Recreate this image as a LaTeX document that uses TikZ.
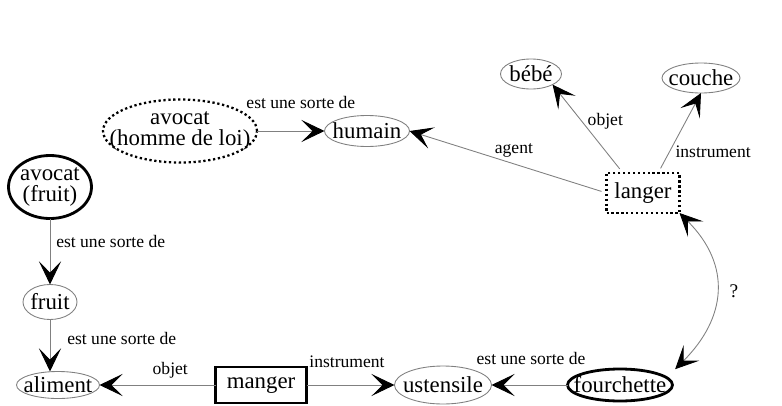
\documentclass[tikz,border=0pt]{standalone}
\usepackage{fontspec}
\setmainfont{Liberation Serif}
\usetikzlibrary{shapes.geometric}
\usetikzlibrary{positioning}
\usetikzlibrary{arrows.meta}

\begin{document}
\begin{tikzpicture}[>={Stealth[length=4.6mm,width=4.4mm,inset=2.2mm,color=black]},
	font=\rmfamily,
	oval/.style={ellipse,draw=gray,line width=0.5pt,inner sep=-2cm,outer sep=0pt,
		font=\rmfamily\fontsize{13}{12}\selectfont,align=center},
	thick oval/.style={oval,draw=black,line width=1.6pt},
	dotted oval/.style={oval,draw=black,line width=1.3pt,dash pattern=on 1.3pt off 1.5pt},
	main box/.style={rectangle,draw=black,line width=1.6pt,inner sep=0pt,outer sep=0pt,
		font=\rmfamily\fontsize{13}{12}\selectfont},
	dotted box/.style={main box,line width=1.3pt,dash pattern=on 1.3pt off 1.5pt},
	link/.style={->,draw=gray,line width=0.5pt}]
	
	\useasboundingbox (0,0) rectangle (15.64,8.1);
	
	\node[dotted oval,minimum width=3.08cm,minimum height=1.26cm] (loi) at (3.6,5.48) {avocat\\(homme de loi)};
	\node[oval,minimum width=1.7cm,minimum height=0.62cm] (humain) [right of=loi,node distance=3.74cm] {humain};
	\node[dotted box,minimum width=1.46cm,minimum height=0.8cm] (langer) at (12.86,4.24) {langer};
	\node[oval,minimum width=1.22cm,minimum height=0.6cm] (bebe) at (10.62,6.62) {bébé};
	\node[oval,minimum width=1.56cm,minimum height=0.6cm] (couche) at (14.02,6.54) {couche};
	
	\node[thick oval,minimum width=1.66cm,minimum height=1.26cm] (avocatfruit) at (1.0,4.36) {avocat\\(fruit)};
	\node[oval,minimum width=1.08cm,minimum height=0.7cm] (fruit) [below of=avocatfruit,node distance=2.3cm] {fruit};
	\node[oval,minimum width=1.66cm,minimum height=0.54cm] (aliment) at (1.16,0.4) {aliment};
	\node[main box,minimum width=1.82cm,minimum height=0.72cm] (manger) [right of=aliment,node distance=4.06cm] {manger};
	\node[oval,minimum width=1.94cm,minimum height=0.76cm] (ustensile) [right of=manger,node distance=3.64cm] {ustensile};
	\node[thick oval,minimum width=2.1cm,minimum height=0.64cm] (fourchette) [right of=ustensile,node distance=3.54cm] {fourchette};
	
	\path[every node/.style={font=\rmfamily\fontsize{10}{12}\selectfont}]
	(loi) edge[link] node[above=9pt,pos=0.65] {est une sorte de} (humain)
	(langer.west) edge[link,shorten <=3pt] node[above,pos=0.47] {agent} (humain.east)
	(langer.135) edge[link,shorten <=3pt] node[right,pos=0.59] {objet} (bebe.south east)
	(langer.53) edge[link,shorten <=3pt] node[right,pos=0.26] {instrument} (couche.south)
	(avocatfruit) edge[link] node[right,pos=0.35] {est une sorte de} (fruit)
	(fruit.south) edge[link] node[right=0.22cm,pos=0.36] {est une sorte de} (fruit.south |- aliment.north)
	(manger) edge[link] node[above,pos=0.39] {objet} (aliment)
	(manger) edge[link] node[above=6pt,pos=0.46] {instrument} (ustensile)
	(fourchette) edge[link] node[above=8pt,pos=0.48] {est une sorte de} (ustensile)
	([shift={(0.36,0.09)}]fourchette.north east) edge[link,<->,out=45,in=-45,looseness=1.2]
		node[right=4pt,font=\rmfamily\fontsize{11}{12}\selectfont] {?} (langer.south east);
\end{tikzpicture}
\end{document}
